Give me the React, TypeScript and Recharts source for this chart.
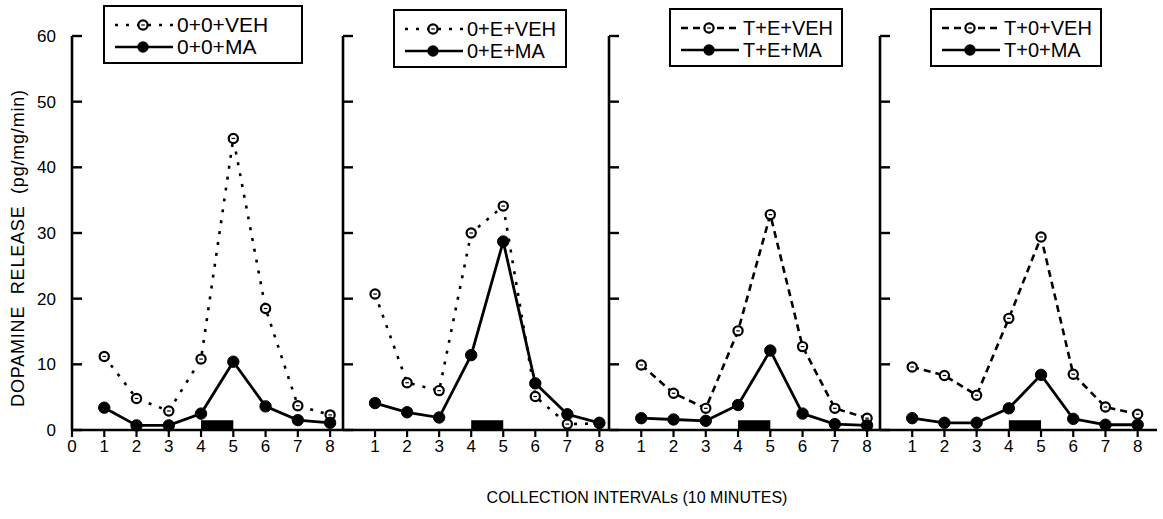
import React from "react";
import { LineChart, Line, XAxis, YAxis, ReferenceArea, Legend } from "recharts";

const intervals = [1, 2, 3, 4, 5, 6, 7, 8];

const veh00 = [11.2, 4.8, 2.9, 10.8, 44.4, 18.5, 3.7, 2.3];
const ma00 = [3.4, 0.7, 0.7, 2.5, 10.4, 3.6, 1.5, 1.1];
const veh0E = [20.7, 7.2, 6.0, 30.0, 34.1, 5.1, 0.9, 1.0];
const ma0E = [4.1, 2.7, 1.9, 11.4, 28.7, 7.1, 2.4, 1.1];
const vehTE = [9.9, 5.6, 3.3, 15.1, 32.8, 12.7, 3.3, 1.8];
const maTE = [1.8, 1.6, 1.4, 3.8, 12.1, 2.5, 0.9, 0.7];
const vehT0 = [9.6, 8.3, 5.3, 17.0, 29.4, 8.5, 3.5, 2.4];
const maT0 = [1.8, 1.1, 1.1, 3.3, 8.4, 1.7, 0.8, 0.8];

const vehNames = ["0+0+VEH", "0+E+VEH", "T+E+VEH", "T+0+VEH"];
const maNames = ["0+0+MA", "0+E+MA", "T+E+MA", "T+0+MA"];

const yTicks = [0, 10, 20, 30, 40, 50, 60];
const xTicksFirst = [0, 1, 2, 3, 4, 5, 6, 7, 8];

// drug infusion bar between intervals 4 and 5
const stimulusFrom = 4;
const stimulusTo = 5;
const stimulusHeight = 1.5;

const FONT = "'Liberation Sans', Arial, Helvetica, sans-serif";
const DOTTED = "3 8";
const DASHED = "7 5";

const panels = [
  { veh: veh00, ma: ma00, dash: DOTTED, axisX: 72, plotW: 271, xMax: 8.4, yw: 64, legend: { left: 103, top: 5, width: 200, font: 21 } },
  { veh: veh0E, ma: ma0E, dash: DOTTED, axisX: 343, plotW: 266, xMax: 8.3, yw: 10, legend: { left: 393, top: 9, width: 174, font: 20 } },
  { veh: vehTE, ma: maTE, dash: DASHED, axisX: 609, plotW: 271, xMax: 8.4, yw: 10, legend: { left: 669, top: 8, width: 174, font: 20 } },
  { veh: vehT0, ma: maT0, dash: DASHED, axisX: 880, plotW: 277, xMax: 8.6, yw: 10, legend: { left: 930, top: 8, width: 172, font: 20 } },
];

const TOP = 36;
const BOTTOM = 430;
const XAXIS_H = 30;

const OpenDot = (p: any) => {
  if (p.cx == null || p.cy == null) return <g key={p.index} />;
  return (
    <g key={p.index}>
      <circle cx={p.cx} cy={p.cy} r={4.6} fill="#fff" stroke="#000" strokeWidth={2.2} />
      <line x1={p.cx - 1.8} x2={p.cx + 1.8} y1={p.cy} y2={p.cy} stroke="#000" strokeWidth={1.2} />
    </g>
  );
};

const FilledDot = (p: any) => {
  if (p.cx == null || p.cy == null) return <g key={p.index} />;
  return <circle key={p.index} cx={p.cx} cy={p.cy} r={5.7} fill="#000" stroke="#000" strokeWidth={1} />;
};

const makeYTick = (showLabel: boolean, margin: number) => (p: any) => (
  <g>
    <line x1={p.x + margin} x2={p.x + margin + 10} y1={p.y} y2={p.y} stroke="#000" strokeWidth={2.4} />
    {showLabel && (
      <text x={p.x} y={p.y} dy="0.36em" textAnchor="end" fontSize={17} fontFamily={FONT} fill="#000">
        {p.payload.value}
      </text>
    )}
  </g>
);

const Swatch = ({ dash, filled }: { dash?: string; filled: boolean }) => (
  <svg width={58} height={20} style={{ display: "block" }}>
    <line x1={0} x2={58} y1={10} y2={10} stroke="#000" strokeWidth={2.6} strokeDasharray={dash} />
    {filled ? (
      <circle cx={28} cy={10} r={5.7} fill="#000" />
    ) : (
      <g>
        <circle cx={28} cy={10} r={4.6} fill="#fff" stroke="#000" strokeWidth={2.2} />
        <line x1={26.2} x2={29.8} y1={10} y2={10} stroke="#000" strokeWidth={1.2} />
      </g>
    )}
  </svg>
);

const LegendBox = ({ vehName, maName, dash, width, font }: any) => (
  <div
    style={{
      width,
      boxSizing: "border-box",
      border: "2.5px solid #000",
      background: "#fff",
      padding: "7px 6px 4px 10px",
      fontFamily: FONT,
      fontSize: font,
      color: "#000",
      lineHeight: "22px",
    }}
  >
    <div style={{ display: "flex", alignItems: "center", height: 22 }}>
      <Swatch dash={dash} filled={false} />
      <span style={{ marginLeft: 4 }}>{vehName}</span>
    </div>
    <div style={{ display: "flex", alignItems: "center", height: 22 }}>
      <Swatch filled={true} />
      <span style={{ marginLeft: 4 }}>{maName}</span>
    </div>
  </div>
);

const renderYLabel = (props: any) => {
  const vb = props.viewBox || { x: 0 };
  const x = vb.x + 10;
  const y = 248;
  return (
    <text
      x={x}
      y={y}
      transform={`rotate(-90 ${x} ${y})`}
      textAnchor="middle"
      dominantBaseline="central"
      fontSize={18}
      letterSpacing={0.8}
      fontFamily={FONT}
      fill="#000"
      style={{ whiteSpace: "pre" }}
    >
      {"DOPAMINE  RELEASE  (pg/mg/min)"}
    </text>
  );
};

export default function App() {
  return (
    <div style={{ position: "absolute", left: 0, top: 0, width: 1163, height: 519, background: "#fff" }}>
      {panels.map((pn, i) => {
        const data = intervals.map((x, k) => ({ x, veh: pn.veh[k], ma: pn.ma[k] }));
        const left = pn.axisX - pn.yw;
        const first = i === 0;
        return (
          <div key={i} style={{ position: "absolute", left, top: 0 }}>
            <LineChart
              width={pn.yw + pn.plotW}
              height={BOTTOM + XAXIS_H}
              data={data}
              margin={{ top: TOP, right: 0, left: 0, bottom: 0 }}
            >
              <XAxis
                dataKey="x"
                type="number"
                domain={[0, pn.xMax]}
                ticks={first ? xTicksFirst : intervals}
                interval={0}
                height={XAXIS_H}
                axisLine={{ stroke: "#000", strokeWidth: 2.6 }}
                tickLine={{ stroke: "#000", strokeWidth: 2.2 }}
                tickSize={7}
                tickMargin={3}
                tick={{ fontSize: 17, fontFamily: FONT, fill: "#000" }}
              />
              <YAxis
                type="number"
                domain={[0, 60]}
                ticks={yTicks}
                interval={0}
                width={pn.yw}
                axisLine={{ stroke: "#000", strokeWidth: 2.6 }}
                tickLine={false}
                tickSize={0}
                tickMargin={16}
                tick={makeYTick(first, 16)}
                label={first ? { content: renderYLabel } : undefined}
              />
              <ReferenceArea
                x1={stimulusFrom}
                x2={stimulusTo}
                y1={0}
                y2={stimulusHeight}
                fill="#000"
                fillOpacity={1}
                stroke="none"
              />
              <Line
                type="linear"
                dataKey="veh"
                name={vehNames[i]}
                stroke="#000"
                strokeWidth={2.6}
                strokeDasharray={pn.dash}
                dot={OpenDot}
                activeDot={false}
                isAnimationActive={false}
              />
              <Line
                type="linear"
                dataKey="ma"
                name={maNames[i]}
                stroke="#000"
                strokeWidth={2.8}
                dot={FilledDot}
                activeDot={false}
                isAnimationActive={false}
              />
              <Legend
                layout="vertical"
                align="center"
                verticalAlign="middle"
                wrapperStyle={{ left: pn.legend.left - left, top: pn.legend.top }}
                content={() => (
                  <LegendBox
                    vehName={vehNames[i]}
                    maName={maNames[i]}
                    dash={pn.dash}
                    width={pn.legend.width}
                    font={pn.legend.font}
                  />
                )}
              />
            </LineChart>
          </div>
        );
      })}
      <div
        style={{
          position: "absolute",
          left: 337,
          width: 600,
          top: 489,
          textAlign: "center",
          fontFamily: FONT,
          fontSize: 16,
          lineHeight: "18px",
          color: "#000",
        }}
      >
        COLLECTION INTERVALs (10 MINUTES)
      </div>
    </div>
  );
}
